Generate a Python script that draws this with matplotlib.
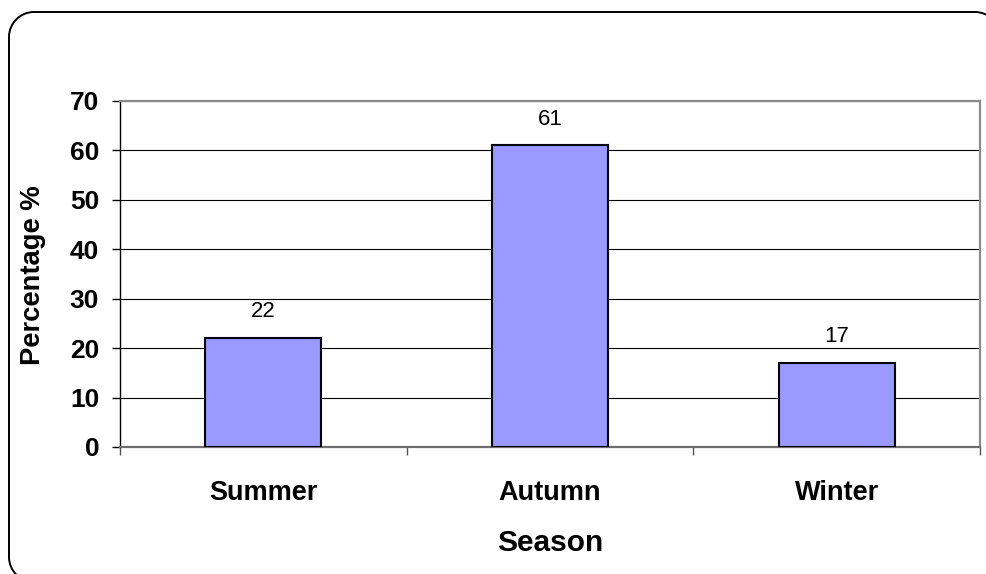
import matplotlib

matplotlib.use("Agg")
import matplotlib.pyplot as plt
import numpy as np
from matplotlib.patches import PathPatch
from matplotlib.path import Path as MPath
from matplotlib.ticker import FixedLocator

plt.rcParams["font.family"] = ["Liberation Sans", "DejaVu Sans"]

seasons = ["Summer", "Autumn", "Winter"]
percentages = [22, 61, 17]
y_ticks = [0, 10, 20, 30, 40, 50, 60, 70]

W, H = 987, 574


def rounded_rect(x0, y0, x1, y1, r):
    # box given in pixels (y down), returned as a path in figure fraction
    k = 0.5523

    def P(x, y):
        return (x / W, 1 - y / H)

    pts = [P(x0 + r, y0), P(x1 - r, y0),
           P(x1 - r + k * r, y0), P(x1, y0 + r - k * r), P(x1, y0 + r),
           P(x1, y1 - r),
           P(x1, y1 - r + k * r), P(x1 - r + k * r, y1), P(x1 - r, y1),
           P(x0 + r, y1),
           P(x0 + r - k * r, y1), P(x0, y1 - r + k * r), P(x0, y1 - r),
           P(x0, y0 + r),
           P(x0, y0 + r - k * r), P(x0 + r - k * r, y0), P(x0 + r, y0)]
    codes = ([MPath.MOVETO, MPath.LINETO] + [MPath.CURVE4] * 3 + [MPath.LINETO]
             + [MPath.CURVE4] * 3 + [MPath.LINETO] + [MPath.CURVE4] * 3
             + [MPath.LINETO] + [MPath.CURVE4] * 3)
    return MPath(pts, codes)


fig = plt.figure(figsize=(W / 100, H / 100), dpi=100)

# rounded chart-area border; filled so the renderer keeps the corner curves intact
fig.patches.append(PathPatch(rounded_rect(9, 12, 1000, 582, 25), transform=fig.transFigure,
                             fc="white", ec="black", lw=1.4, zorder=-1))

ax = fig.add_axes([120 / W, 1 - 447 / H, (980 - 120) / W, (447 - 101) / H])
ax.patch.set_alpha(0)
x = np.arange(len(seasons))
ax.bar(x, percentages, width=0.405, color="#9999FF", edgecolor="black", lw=1.5, zorder=3)

for xi, v in zip(x, percentages):
    ax.annotate(str(v), (xi, v), xytext=(0, 19), textcoords="offset points",
                ha="center", va="center", fontsize=16)

ax.set_xlim(-0.5, 2.5)
ax.set_ylim(0, 70)
ax.set_yticks(y_ticks)
ax.yaxis.grid(True, color="black", lw=0.8, zorder=0)
ax.set_axisbelow(True)

ax.set_xticks(x)
ax.set_xticklabels(seasons, fontsize=19.5, fontweight="bold")
ax.xaxis.set_minor_locator(FixedLocator([-0.5, 0.5, 1.5, 2.5]))
ax.tick_params(axis="x", which="major", length=0, pad=24)
ax.tick_params(axis="x", which="minor", length=6, width=1, direction="out", color="#555555")
ax.tick_params(axis="y", length=6, width=1, direction="out", pad=9, labelsize=19)
for lab in ax.get_yticklabels():
    lab.set_fontweight("bold")

ax.spines["left"].set_color("black")
ax.spines["left"].set_linewidth(1)
ax.spines["bottom"].set_color("#6e6e6e")
ax.spines["bottom"].set_linewidth(1.6)
for side in ("top", "right"):
    ax.spines[side].set_color("#8c8c8c")
    ax.spines[side].set_linewidth(1.6)

fig.text(550 / W, 1 - 543 / H, "Season", ha="center", va="center", fontsize=21.5, fontweight="bold")
fig.text(33 / W, 1 - 275 / H, "Percentage %", ha="center", va="center", rotation=90,
         fontsize=19.7, fontweight="bold")

fig.savefig("out.png", dpi=100)
